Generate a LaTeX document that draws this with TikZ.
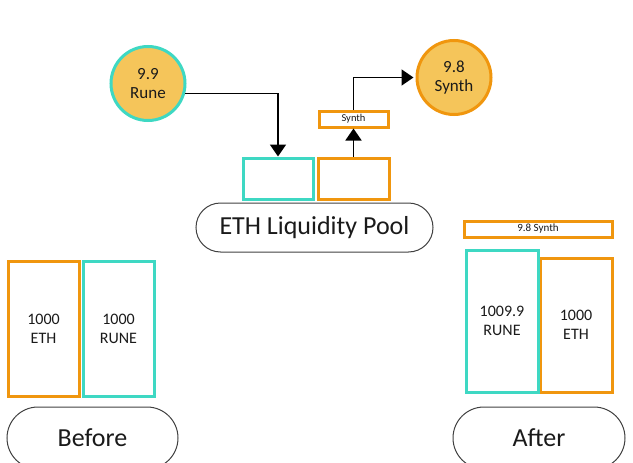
\documentclass[tikz,border=0pt]{standalone}
\usepackage{fontspec}
\setmainfont{Carlito}
\usetikzlibrary{arrows.meta}
\definecolor{tealc}{HTML}{3ED8C3}
\definecolor{orangec}{HTML}{F0960E}
\definecolor{coinfill}{HTML}{F5C55A}
\definecolor{pillc}{HTML}{404040}
\definecolor{txt}{HTML}{1A1A1A}
\begin{document}
\begin{tikzpicture}[x=1pt,y=-1pt,
  every node/.style={text=txt},
  tealbox/.style={draw=tealc, line width=3pt, fill=white, inner sep=0pt, align=center, font=\fontsize{16}{19}\selectfont},
  orangebox/.style={draw=orangec, line width=3pt, fill=white, inner sep=0pt, align=center, font=\fontsize{16}{19}\selectfont},
  tag/.style={draw=orangec, line width=3pt, fill=white, inner sep=0pt, font=\fontsize{10.5}{12}\selectfont},
  pill/.style={draw=pillc, line width=1pt, inner sep=0pt, font=\fontsize{26}{30}\selectfont},
  coin/.style={circle, fill=coinfill, line width=3pt, minimum size=74pt, inner sep=0pt, align=center, font=\fontsize{17}{19}\selectfont},
  arr/.style={draw=black, line width=1.8pt, -{Triangle[width=16pt,length=12pt]}}]
\useasboundingbox (0,0) rectangle (633,463);
\clip (0,0) rectangle (633,463);
% coins
\node[coin, draw=tealc] (rune) at (148,83.5) {9.9\\Rune};
\node[coin, draw=orangec] (synthcoin) at (454,77.5) {9.8\\Synth};
% pool
\node[tealbox, minimum width=70pt, minimum height=41pt] (poolteal) at (278,178.5) {};
\node[orangebox, minimum width=71pt, minimum height=41pt] (poolorange) at (353.5,178.5) {};
\node[tag, minimum width=69pt, minimum height=16pt] (synthtag) at (353.5,119) {Synth};
\draw[pill, rounded corners=24.5pt] (196,203) rectangle (433,252);
\node[pill, draw=none] (poollabel) at (314.5,227.5) {ETH Liquidity Pool};
% arrows
\draw[arr] (rune.-15) -| (poolteal.north);
\draw[arr] (poolorange.north) -- (synthtag.south);
\draw[arr, shorten >=2pt] (synthtag.north) |- (synthcoin.west);
% before
\node[orangebox, minimum width=71pt, minimum height=135pt] (beth) at (43.5,328.5) {1000\\ETH};
\node[tealbox, minimum width=71pt, minimum height=135pt] (brune) at (118.5,328.5) {1000\\RUNE};
\draw[pill, rounded corners=31pt] (7,407) rectangle (178,469);
\node[pill, draw=none] (before) at (92.5,438) {Before};
% after
\node[tag, minimum width=148pt, minimum height=16pt, font=\fontsize{11}{12}\selectfont] (asynth) at (538,229) {9.8 Synth};
\node[orangebox, minimum width=72pt, minimum height=134pt] (aeth) at (576,325) {1000\\ETH};
\node[tealbox, minimum width=72pt, minimum height=142pt] (arune) at (502,321) {1009.9\\RUNE};
\draw[pill, rounded corners=31pt] (453,407) rectangle (625,469);
\node[pill, draw=none] (after) at (539,438) {After};
\end{tikzpicture}
\end{document}
